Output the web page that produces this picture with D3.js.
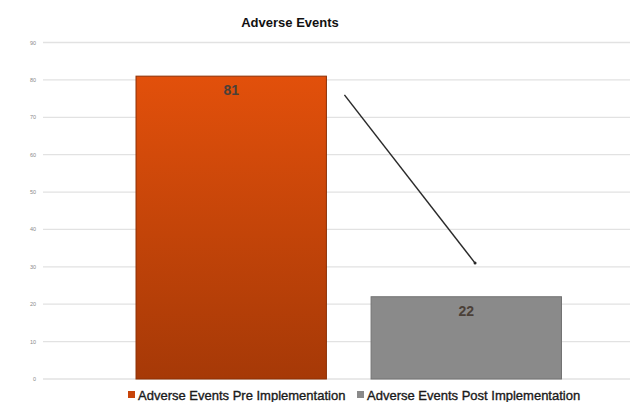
<!DOCTYPE html>
<html><head><meta charset="utf-8">
<script src="https://cdn.jsdelivr.net/npm/d3@7"></script>
<style>body{margin:0;background:#fff}svg{display:block}</style>
</head><body>
<script>
const title = "Adverse Events";
const categories = ["Adverse Events Pre Implementation", "Adverse Events Post Implementation"];
const values = [81, 22];
const yTicks = [0,10,20,30,40,50,60,70,80,90];
const colors = ["#d44a0a", "#8a8a8a"];

const W = 641, H = 402;
const svg = d3.select("body").append("svg").attr("width", W).attr("height", H);
const defs = svg.append("defs");
const g1 = defs.append("linearGradient").attr("id","gOrange").attr("x1",0).attr("y1",0).attr("x2",0).attr("y2",1);
g1.append("stop").attr("offset","0%").attr("stop-color","#e2500b");
g1.append("stop").attr("offset","100%").attr("stop-color","#a63907");

const y = d3.scaleLinear().domain([0,90]).range([379, 42.5]);
const x = d3.scaleBand().domain(categories).range([65.5, 632]).paddingInner(0.19).paddingOuter(0.3);
const gridX0 = 43, gridX1 = 630;

// grid
svg.append("g").selectAll("line").data(yTicks).join("line")
  .attr("x1", gridX0).attr("x2", gridX1)
  .attr("y1", d => y(d)).attr("y2", d => y(d))
  .attr("stroke", "#e2e2e2").attr("stroke-width", 1.3);

svg.append("g").selectAll("text").data(yTicks).join("text")
  .attr("x", 36).attr("y", d => y(d) + 2)
  .attr("text-anchor", "end")
  .attr("font-family", "Liberation Sans, Arial, sans-serif")
  .attr("font-size", 5.5).attr("fill", "#8a8a8a")
  .text(d => d);

// bars
const fills = ["url(#gOrange)", colors[1]];
const strokes = ["#8c3005", "#727272"];
svg.append("g").selectAll("rect").data(values).join("rect")
  .attr("x", (d,i) => x(categories[i]))
  .attr("y", d => y(d))
  .attr("width", x.bandwidth())
  .attr("height", d => y(0) - y(d))
  .attr("fill", (d,i) => fills[i])
  .attr("stroke", (d,i) => strokes[i]).attr("stroke-width", 1);

// value labels
svg.append("g").selectAll("text").data(values).join("text")
  .attr("x", (d,i) => x(categories[i]) + x.bandwidth()/2)
  .attr("y", d => y(d) + 19)
  .attr("text-anchor", "middle")
  .attr("font-family", "Liberation Sans, Arial, sans-serif")
  .attr("font-size", 14).attr("font-weight", "bold")
  .attr("fill", "#4a4038")
  .text(d => d);

// arrow
svg.append("line")
  .attr("x1", x(categories[0]) + x.bandwidth() + 18).attr("y1", y(76))
  .attr("x2", x(categories[1]) + 104).attr("y2", y(31))
  .attr("stroke", "#2a2a2a").attr("stroke-width", 1.5);
svg.append("circle")
  .attr("cx", x(categories[1]) + 104).attr("cy", y(31)).attr("r", 1.5).attr("fill", "#2a2a2a");

// title
svg.append("text").attr("x", 290).attr("y", 27).attr("text-anchor", "middle")
  .attr("font-family", "Liberation Sans, Arial, sans-serif")
  .attr("font-size", 13).attr("font-weight", "bold").attr("fill", "#111")
  .text(title);

// legend
const legX = [128, 357];
const leg = svg.append("g").selectAll("g").data(categories).join("g")
  .attr("transform", (d,i) => `translate(${legX[i]},391)`);
leg.append("rect").attr("x",0).attr("y",0).attr("width",7).attr("height",7)
  .attr("fill", (d,i) => i===0 ? "#c8440a" : "#8a8a8a");
leg.append("text").attr("x", 10).attr("y", 8.5)
  .attr("font-family", "Liberation Sans, Arial, sans-serif")
  .attr("font-size", 13).attr("fill", "#1a1a1a")
  .attr("stroke", "#1a1a1a").attr("stroke-width", 0.35)
  .text(d => d);
</script>
</body></html>
